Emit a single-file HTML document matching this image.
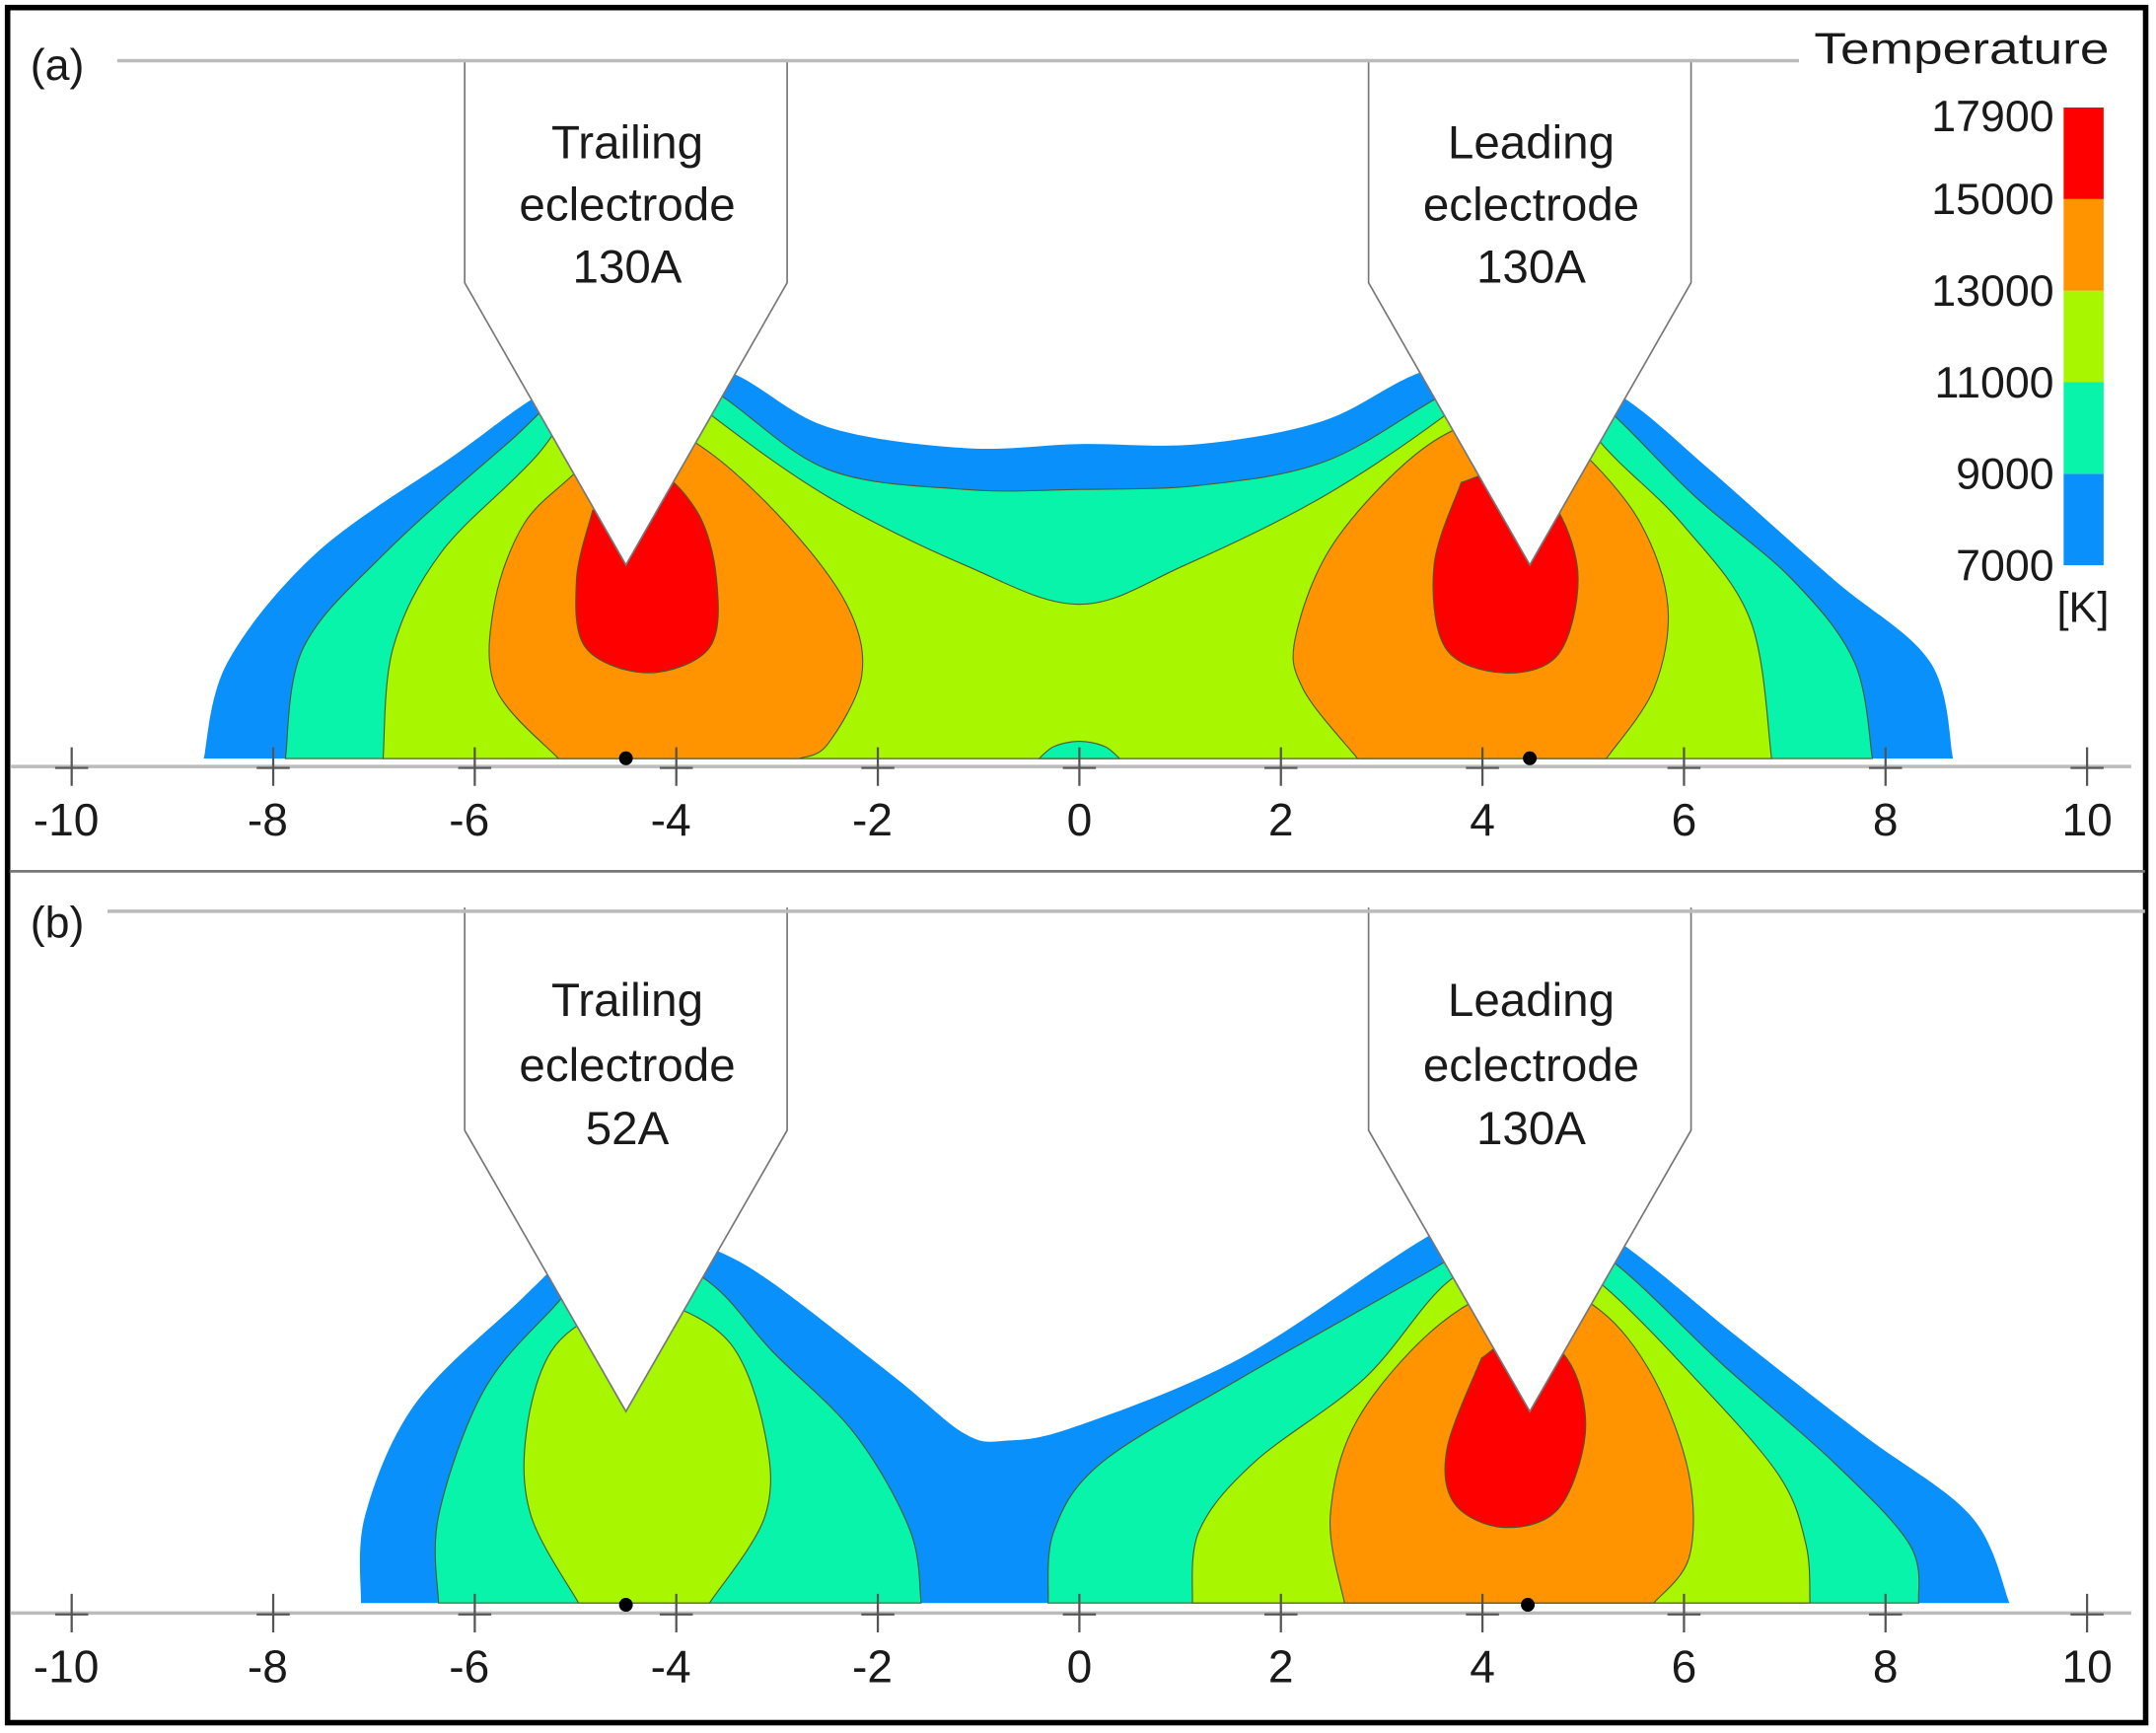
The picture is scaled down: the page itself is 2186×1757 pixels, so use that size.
<!DOCTYPE html>
<html><head><meta charset="utf-8">
<style>
html,body{margin:0;padding:0;background:#fff;}
svg{display:block;}
text{font-family:"Liberation Sans",sans-serif;fill:#1a1a1a;}
</style></head>
<body>
<svg id="fig" width="2186" height="1757" viewBox="0 0 1564 1257" preserveAspectRatio="none" xmlns="http://www.w3.org/2000/svg">
<rect x="5.5" y="5.5" width="1551" height="1244" fill="#fff" stroke="#000" stroke-width="4"/>
<line x1="7" y1="632" x2="1556" y2="632" stroke="#777" stroke-width="2"/>
<g id="legend">
<text x="1316" y="46" font-size="32" textLength="214" lengthAdjust="spacingAndGlyphs">Temperature</text>
<text x="1530" y="451" font-size="31" text-anchor="end">[K]</text>
</g>
<g id="panels"></g>
</svg>
<script>
// ---- data ----
const xTicks = [-10,-8,-6,-4,-2,0,2,4,6,8,10];
const levels = [7000,9000,11000,13000,15000,17900];
const levelColors = ["#0a90fa","#08f4aa","#a8f600","#ff9400","#ff0000"];
const electrodeCenters = [-4.5, 4.47];
const electrodeCurrentsA = ["130A","130A"];
const electrodeCurrentsB = ["52A","130A"];
const electrodeNames = ["Trailing","Leading"];
const electrodeHalfWidth = 1.6;
const electrodeTipZ = 2.0;
const electrodeTopZ = 7.0;
const arcRootsA = [-4.5, 4.47];
const arcRootsB = [-4.5, 4.45];

const a_blue = [[-8.69,.08],[-8.45,1.04],[-7.56,2.13],[-6.2,3.09],[-5.44,3.64],[-4.5,4.2],[-3.46,3.91],[-2.5,3.37],[-1.14,3.16],[0,3.2],[1.19,3.2],[2.42,3.43],[3.38,3.91],[4.47,4.2],[5.43,3.64],[6.25,2.95],[7.48,1.86],[8.44,1.04],[8.67,.08]];
const a_teal = [[-7.88,.08],[-7.7,1.18],[-6.88,2.13],[-5.65,3.23],[-4.5,4.2],[-3.6,3.71],[-2.5,2.95],[-1.14,2.75],[0,2.75],[1.19,2.79],[2.42,3.02],[3.52,3.64],[4.47,4.2],[5.29,3.5],[6.11,2.68],[7.07,1.86],[7.69,1.04],[7.87,.08]];
const a_green = [[-6.91,.08],[-6.81,1.18],[-6.33,2.13],[-5.38,3.09],[-4.5,4.2],[-3.67,3.5],[-2.5,2.68],[-1.14,2.0],[0,1.61],[1.05,2.0],[2.42,2.68],[3.65,3.5],[4.47,4.2],[5.16,3.23],[5.98,2.41],[6.66,1.45],[6.87,.08]];
const a_orangeL = [[-5.17,.08],[-5.79,.77],[-5.81,1.59],[-5.51,2.41],[-4.97,2.95],[-4.5,3.5],[-3.73,3.16],[-2.91,2.41],[-2.3,1.59],[-2.16,.9],[-2.5,.22],[-2.78,.08]];
const a_orangeR = [[2.76,.08],[2.22,.77],[2.15,1.31],[2.56,2.27],[3.52,3.23],[4.47,3.5],[5.02,3.09],[5.57,2.41],[5.84,1.59],[5.7,.77],[5.23,.08]];
const a_redL = [[-4.83,2.54],[-4.99,1.86],[-4.9,1.18],[-4.28,.93],[-3.67,1.18],[-3.6,1.86],[-3.8,2.54],[-4.28,2.95],[-4.83,2.54]];
const a_redR = [[3.79,2.82],[3.52,2.0],[3.63,1.18],[4.2,.93],[4.75,1.11],[4.95,1.86],[4.75,2.54],[4.34,2.95],[3.79,2.82]];
const a_bump = [[-0.4,.08],[-0.25,.2],[0,.25],[0.25,.2],[0.4,.08]];
const bandsA = [[0,a_blue],[1,a_teal],[2,a_green],[1,a_bump],[3,a_orangeL],[3,a_orangeR],[4,a_redL],[4,a_redR]];

const b_blue = [[-7.13,.1],[-7.09,.96],[-6.61,2.05],[-5.65,3.01],[-4.5,3.97],[-3.67,3.63],[-3.05,3.28],[-1.82,2.33],[-1.14,1.78],[-.73,1.71],[-.04,1.85],[1.6,2.53],[3.38,3.69],[4.45,4.24],[5.43,3.63],[6.53,2.74],[7.76,1.78],[8.85,.96],[9.23,.1]];
const b_tealL = [[-6.36,.1],[-6.36,.96],[-5.92,2.19],[-5.24,3.01],[-4.5,3.69],[-3.67,3.28],[-3.05,2.6],[-2.23,1.78],[-1.68,.82],[-1.57,.1]];
const b_greenL = [[-4.97,.1],[-5.44,.96],[-5.49,1.78],[-5.24,2.6],[-4.69,3.01],[-4.15,3.08],[-3.46,2.67],[-3.12,1.78],[-3.12,.96],[-3.67,.1]];
const b_tealR = [[-.31,.1],[-.25,.82],[.23,1.5],[1.6,2.33],[3.52,3.42],[4.45,3.97],[5.29,3.49],[6.39,2.46],[7.48,1.5],[8.24,.68],[8.33,.1]];
const b_greenR = [[1.12,.1],[1.19,.82],[1.74,1.5],[2.83,2.33],[3.65,3.28],[4.45,3.69],[5.16,3.28],[6.11,2.33],[6.94,1.37],[7.21,.68],[7.25,.1]];
const b_orange = [[2.63,.1],[2.49,.96],[2.76,1.92],[3.58,2.87],[4.45,3.28],[5.16,3.01],[5.7,2.33],[6.05,1.37],[6.05,.55],[5.7,.1]];
const b_red = [[3.99,2.53],[3.65,1.64],[3.72,1.09],[4.2,.85],[4.75,1.03],[5.02,1.78],[4.88,2.46],[4.45,2.8],[3.99,2.53]];
const bandsB = [[0,b_blue],[1,b_tealL],[2,b_greenL],[1,b_tealR],[2,b_greenR],[3,b_orange],[4,b_red]];

// ---- layout ----
const NS = "http://www.w3.org/2000/svg";
const unit = 73.1, x0 = 783;
const panels = [
  {id:"a", axisY:556, topY:44, lineX1:85, lineX2:1305, label:"(a)", labelY:58, bands:bandsA, currents:electrodeCurrentsA, roots:arcRootsA, textY:[103,148,193], shoulder:4.8},
  {id:"b", axisY:1170, topY:661, lineX1:78, lineX2:1556, label:"(b)", labelY:680, bands:bandsB, currents:electrodeCurrentsB, roots:arcRootsB, textY:[725,772,818], shoulder:4.79}
];
const X = v => x0 + v*unit;
function mk(tag, attrs, parent){ const e=document.createElementNS(NS,tag); for(const k in attrs) e.setAttribute(k,attrs[k]); parent.appendChild(e); return e; }
function smooth(pts, Y){
  const P = pts.map(p=>[X(p[0]),Y(p[1])]);
  let d = "M"+P[0][0].toFixed(1)+","+P[0][1].toFixed(1);
  for(let i=0;i<P.length-1;i++){
    const p0=P[Math.max(i-1,0)],p1=P[i],p2=P[i+1],p3=P[Math.min(i+2,P.length-1)];
    const c1=[p1[0]+(p2[0]-p0[0])/6,p1[1]+(p2[1]-p0[1])/6];
    const c2=[p2[0]-(p3[0]-p1[0])/6,p2[1]-(p3[1]-p1[1])/6];
    d+=" C"+c1[0].toFixed(1)+","+c1[1].toFixed(1)+" "+c2[0].toFixed(1)+","+c2[1].toFixed(1)+" "+p2[0].toFixed(1)+","+p2[1].toFixed(1);
  }
  return d+" Z";
}
const root = document.getElementById("panels");
panels.forEach(pn=>{
  const Y = z => pn.axisY - z*unit;
  const g = mk("g",{},root);
  
  
  pn.bands.forEach((b,i)=>{
    const p = mk("path",{d:smooth(b[1],Y),fill:levelColors[b[0]],stroke:b[0]===0?"none":"#4a5a30","stroke-width":0.8},g);
    
    
  });
  const ax = mk("line",{x1:8,y1:pn.axisY,x2:1546,y2:pn.axisY,stroke:"#bbb","stroke-width":2.5},g);
  
  
  xTicks.forEach(t=>{
    const tk = mk("path",{d:`M${X(t)},${pn.axisY-14}V${pn.axisY+14}M${X(t)-12},${pn.axisY+1}H${X(t)+12}`,stroke:"#555","stroke-width":1.6,fill:"none"},g);
    
    
    const tl = mk("text",{x:X(t)-(t<0?4:0),y:pn.axisY+50,"font-size":33,"text-anchor":"middle"},g);
    tl.textContent = t;
    
    
  });
  electrodeCenters.forEach((c,i)=>{
    const d = `M${X(c-electrodeHalfWidth)},${Y(electrodeTopZ)} V${Y(pn.shoulder)} L${X(c)},${Y(electrodeTipZ)} L${X(c+electrodeHalfWidth)},${Y(pn.shoulder)} V${Y(electrodeTopZ)}`;
    const e = mk("path",{d:d,fill:"#fff",stroke:"#777","stroke-width":1.2},g);
    
    
    const lines=[electrodeNames[i],"eclectrode",pn.currents[i]];
    lines.forEach((s,j)=>{
      const t = mk("text",{x:X(c)+1,y:pn.textY[j]+12,"font-size":34,"text-anchor":"middle"},g);
      t.textContent=s;
      
      
    });
  });
  const top = mk("line",{x1:pn.lineX1,y1:pn.topY,x2:pn.lineX2,y2:pn.topY,stroke:"#bbb","stroke-width":2.5},g);
  
  
  pn.roots.forEach(r=>{
    const dot = mk("circle",{cx:X(r),cy:pn.axisY-6,r:5,fill:"#000"},g);
    
    
  });
  const lb = mk("text",{x:22,y:pn.labelY,"font-size":32},g);
  lb.textContent = pn.label;
  
  
});
const legend = document.getElementById("legend");
const cbTop=78, cbBot=410, cbX=1497, cbW=29;
const cbY = v => cbBot - (levels.indexOf(v))*(cbBot-cbTop)/(levels.length-1);
for(let i=0;i<levels.length-1;i++){
  const r = mk("rect",{x:cbX,y:cbY(levels[i+1]),width:cbW,height:cbY(levels[i])-cbY(levels[i+1]),fill:levelColors[i]},legend);
  
  
}
levels.forEach(v=>{
  const t = mk("text",{x:1490,y:cbY(v)+(v===levels[levels.length-1]?17:11),"font-size":32,"text-anchor":"end"},legend);
  t.textContent=v;
  
  
});
</script>
</body></html>
